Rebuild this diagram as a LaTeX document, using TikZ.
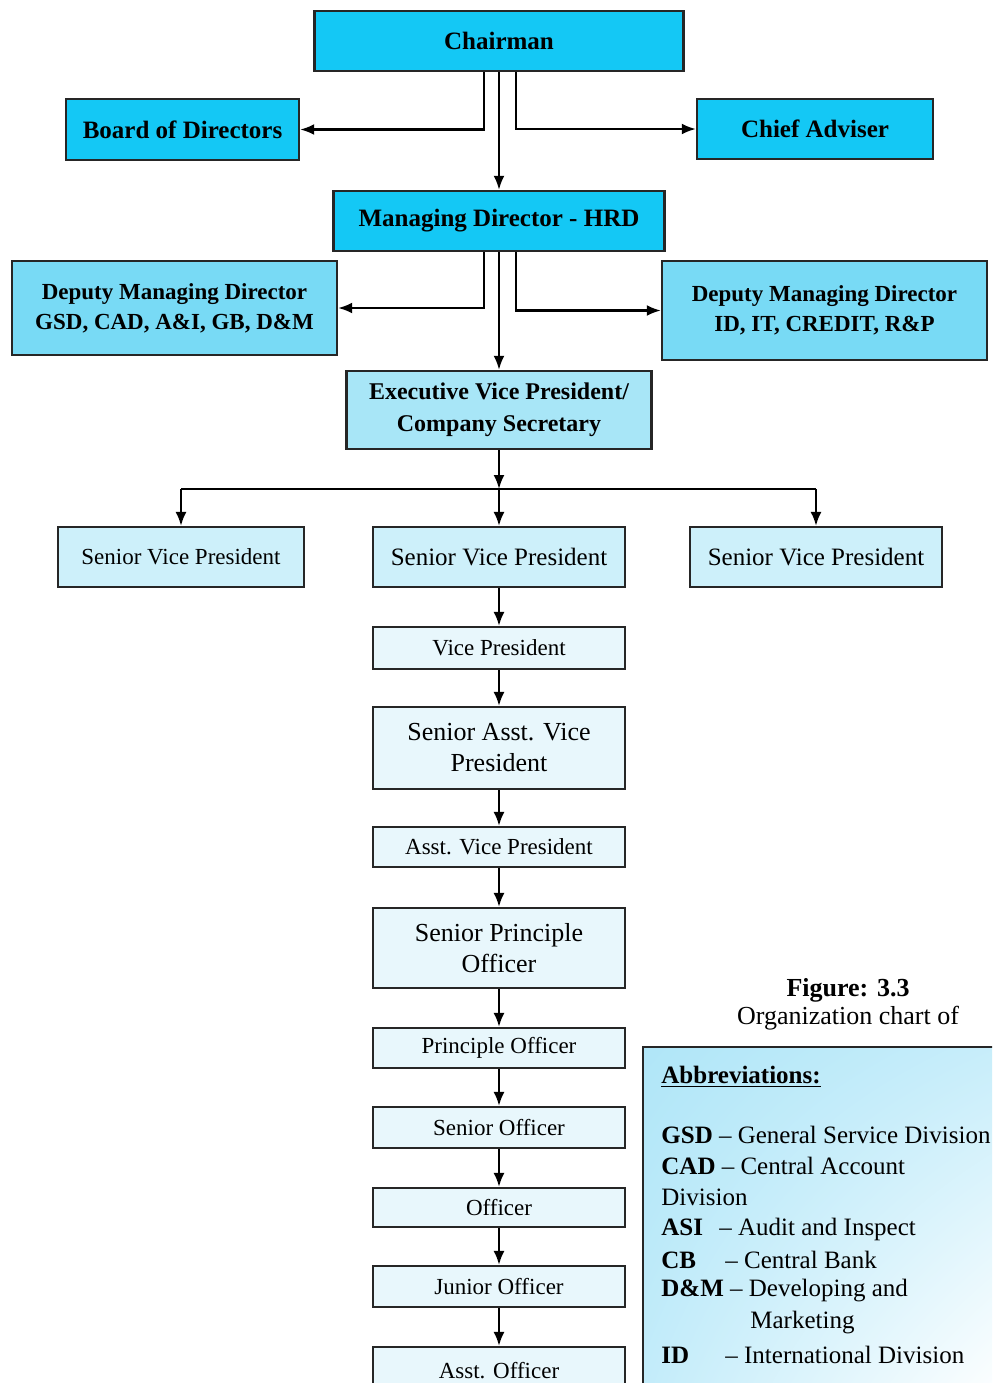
\documentclass[tikz,border=0pt]{standalone}
\usepackage{fontspec}
\setmainfont{Liberation Serif}
\usetikzlibrary{shadings,arrows.meta}
\definecolor{chaircyan}{RGB}{20,200,245}
\definecolor{dmdcyan}{RGB}{120,218,245}
\definecolor{evpcyan}{RGB}{168,230,247}
\definecolor{svpcyan}{RGB}{205,240,250}
\definecolor{lowcyan}{RGB}{232,247,252}
\definecolor{abbrblue}{RGB}{176,230,248}
\begin{document}
\begin{tikzpicture}[x=0.5pt,y=-0.5pt,>={Latex[length=7pt,width=5.5pt]},
        sz/.style 2 args={minimum width=#1*0.5pt,minimum height=#2*0.5pt},
        topbox/.style={draw=black!85,line width=1.2pt,fill=chaircyan,inner sep=0pt,align=center,font=\bfseries\fontsize{12.5}{15}\selectfont},
        dmdbox/.style={topbox,fill=dmdcyan,font=\bfseries\fontsize{11.5}{15}\selectfont},
        evpbox/.style={topbox,fill=evpcyan,font=\bfseries\fontsize{12}{16}\selectfont},
        rankbox/.style={draw=black!85,line width=1.1pt,fill=lowcyan,inner sep=0pt,align=center,font=\fontsize{11.5}{15}\selectfont},
        svpbox/.style={rankbox,fill=svpcyan},
        abbr/.style={anchor=west,inner sep=0pt,font=\fontsize{12.5}{15}\selectfont},
        link/.style={->,line width=1.1pt}]
        \useasboundingbox (0,0) rectangle (992,1383);
        \clip (0,0) rectangle (992,1383);
        \node[topbox,sz={369}{60}] (chair) at (499,41) {Chairman};
        \node[topbox,sz={233}{61}] (board) at (182.5,129.5) {Board of Directors};
        \node[topbox,sz={236}{60}] (chief) at (815,129) {Chief Adviser};
        \node[topbox,sz={331}{60}] (md) at (499,221) {Managing Director - HRD};
        \node[dmdbox,sz={325}{94}] (dmdl) at (174.5,308) {Deputy Managing Director\\GSD, CAD, A\&I, GB, D\&M};
        \node[dmdbox,sz={325}{99}] (dmdr) at (824.5,310.5) {Deputy Managing Director\\ID, IT, CREDIT, R\&P};
        \node[evpbox,sz={305}{78}] (evp) at (499,410) {Executive Vice President/\\Company Secretary};
        \coordinate (bar) at (499,489);
        \node[svpbox,sz={246}{60}] (svpl) at (181,557) {Senior Vice President};
        \node[svpbox,sz={252}{60},font=\fontsize{12.5}{15}\selectfont] (svpm) at (499,557) {Senior Vice President};
        \node[svpbox,sz={252}{60},font=\fontsize{12.5}{15}\selectfont] (svpr) at (816,557) {Senior Vice President};
        \node[rankbox,sz={252}{42}] (vp) at (499,648) {Vice President};
        \node[rankbox,sz={252}{82},font=\fontsize{13}{15.5}\selectfont] (savp) at (499,748) {Senior Asst. Vice\\President};
        \node[rankbox,sz={252}{40}] (avp) at (499,847) {Asst. Vice President};
        \node[rankbox,sz={252}{80},font=\fontsize{13}{15.5}\selectfont] (spo) at (499,948) {Senior Principle\\Officer};
        \node[rankbox,sz={252}{40}] (po) at (499,1048) {Principle Officer};
        \node[rankbox,sz={252}{41}] (so) at (499,1127.5) {Senior Officer};
        \node[rankbox,sz={252}{39}] (off) at (499,1207.5) {Officer};
        \node[rankbox,sz={252}{41}] (jo) at (499,1286.5) {Junior Officer};
        \node[rankbox,sz={252}{48}] (ao) at (499,1371) {Asst. Officer};
        \draw[link] ([xshift=-7.5pt]chair.south) |- (board);
        \draw[link] ([xshift=8.5pt]chair.south) |- (chief);
        \draw[link] (chair) -- (md);
        \draw[link] ([xshift=-7.5pt]md.south) |- (dmdl);
        \draw[link] ([xshift=8.5pt]md.south) |- (dmdr);
        \draw[link] (md) -- (evp);
        \draw[link] (evp) -- (bar);
        \draw[line width=1.1pt] (svpl.north |- bar) -- (svpr.north |- bar);
        \foreach \n in {svpl,svpm,svpr}
            \draw[link] (\n.north |- bar) -- (\n);
        \foreach \a/\b in {svpm/vp,vp/savp,savp/avp,avp/spo,spo/po,po/so,so/off,off/jo,jo/ao}
            \draw[link] (\a) -- (\b);
        \node[font=\bfseries\fontsize{13}{15}\selectfont] (figno) at (848,990) {Figure: 3.3};
        \node[font=\fontsize{13}{15}\selectfont] (figtitle) at (848,1018) {Organization chart of};
        \shade[upper left=abbrblue,upper right=abbrblue!70,lower left=abbrblue!75,lower right=white] (643,1047) rectangle (1000,1400);
        \draw[line width=1.2pt,draw=black!85] (643,1047) rectangle (1000,1400);
        \node[abbr,font=\bfseries\fontsize{12.5}{15}\selectfont] (abbrhead) at (661,1077) {\underline{Abbreviations:}};
        \node[abbr] (gsd) at (661,1135) {\textbf{GSD} -- General Service Division};
        \node[abbr] (cad) at (661,1166) {\textbf{CAD} -- Central Account};
        \node[abbr] (cadb) at (661,1197) {Division};
        \node[abbr] (asi) at (661,1229) {\makebox[29pt][l]{\textbf{ASI}}-- Audit and Inspect};
        \node[abbr] (cb) at (661,1260) {\makebox[32pt][l]{\textbf{CB}}-- Central Bank};
        \node[abbr] (dm) at (661,1291) {\textbf{D\&M} -- Developing and};
        \node[abbr] (dmb) at (750,1323) {Marketing};
        \node[abbr] (id) at (661,1355) {\makebox[32pt][l]{\textbf{ID}}-- International Division};
\end{tikzpicture}
\end{document}
